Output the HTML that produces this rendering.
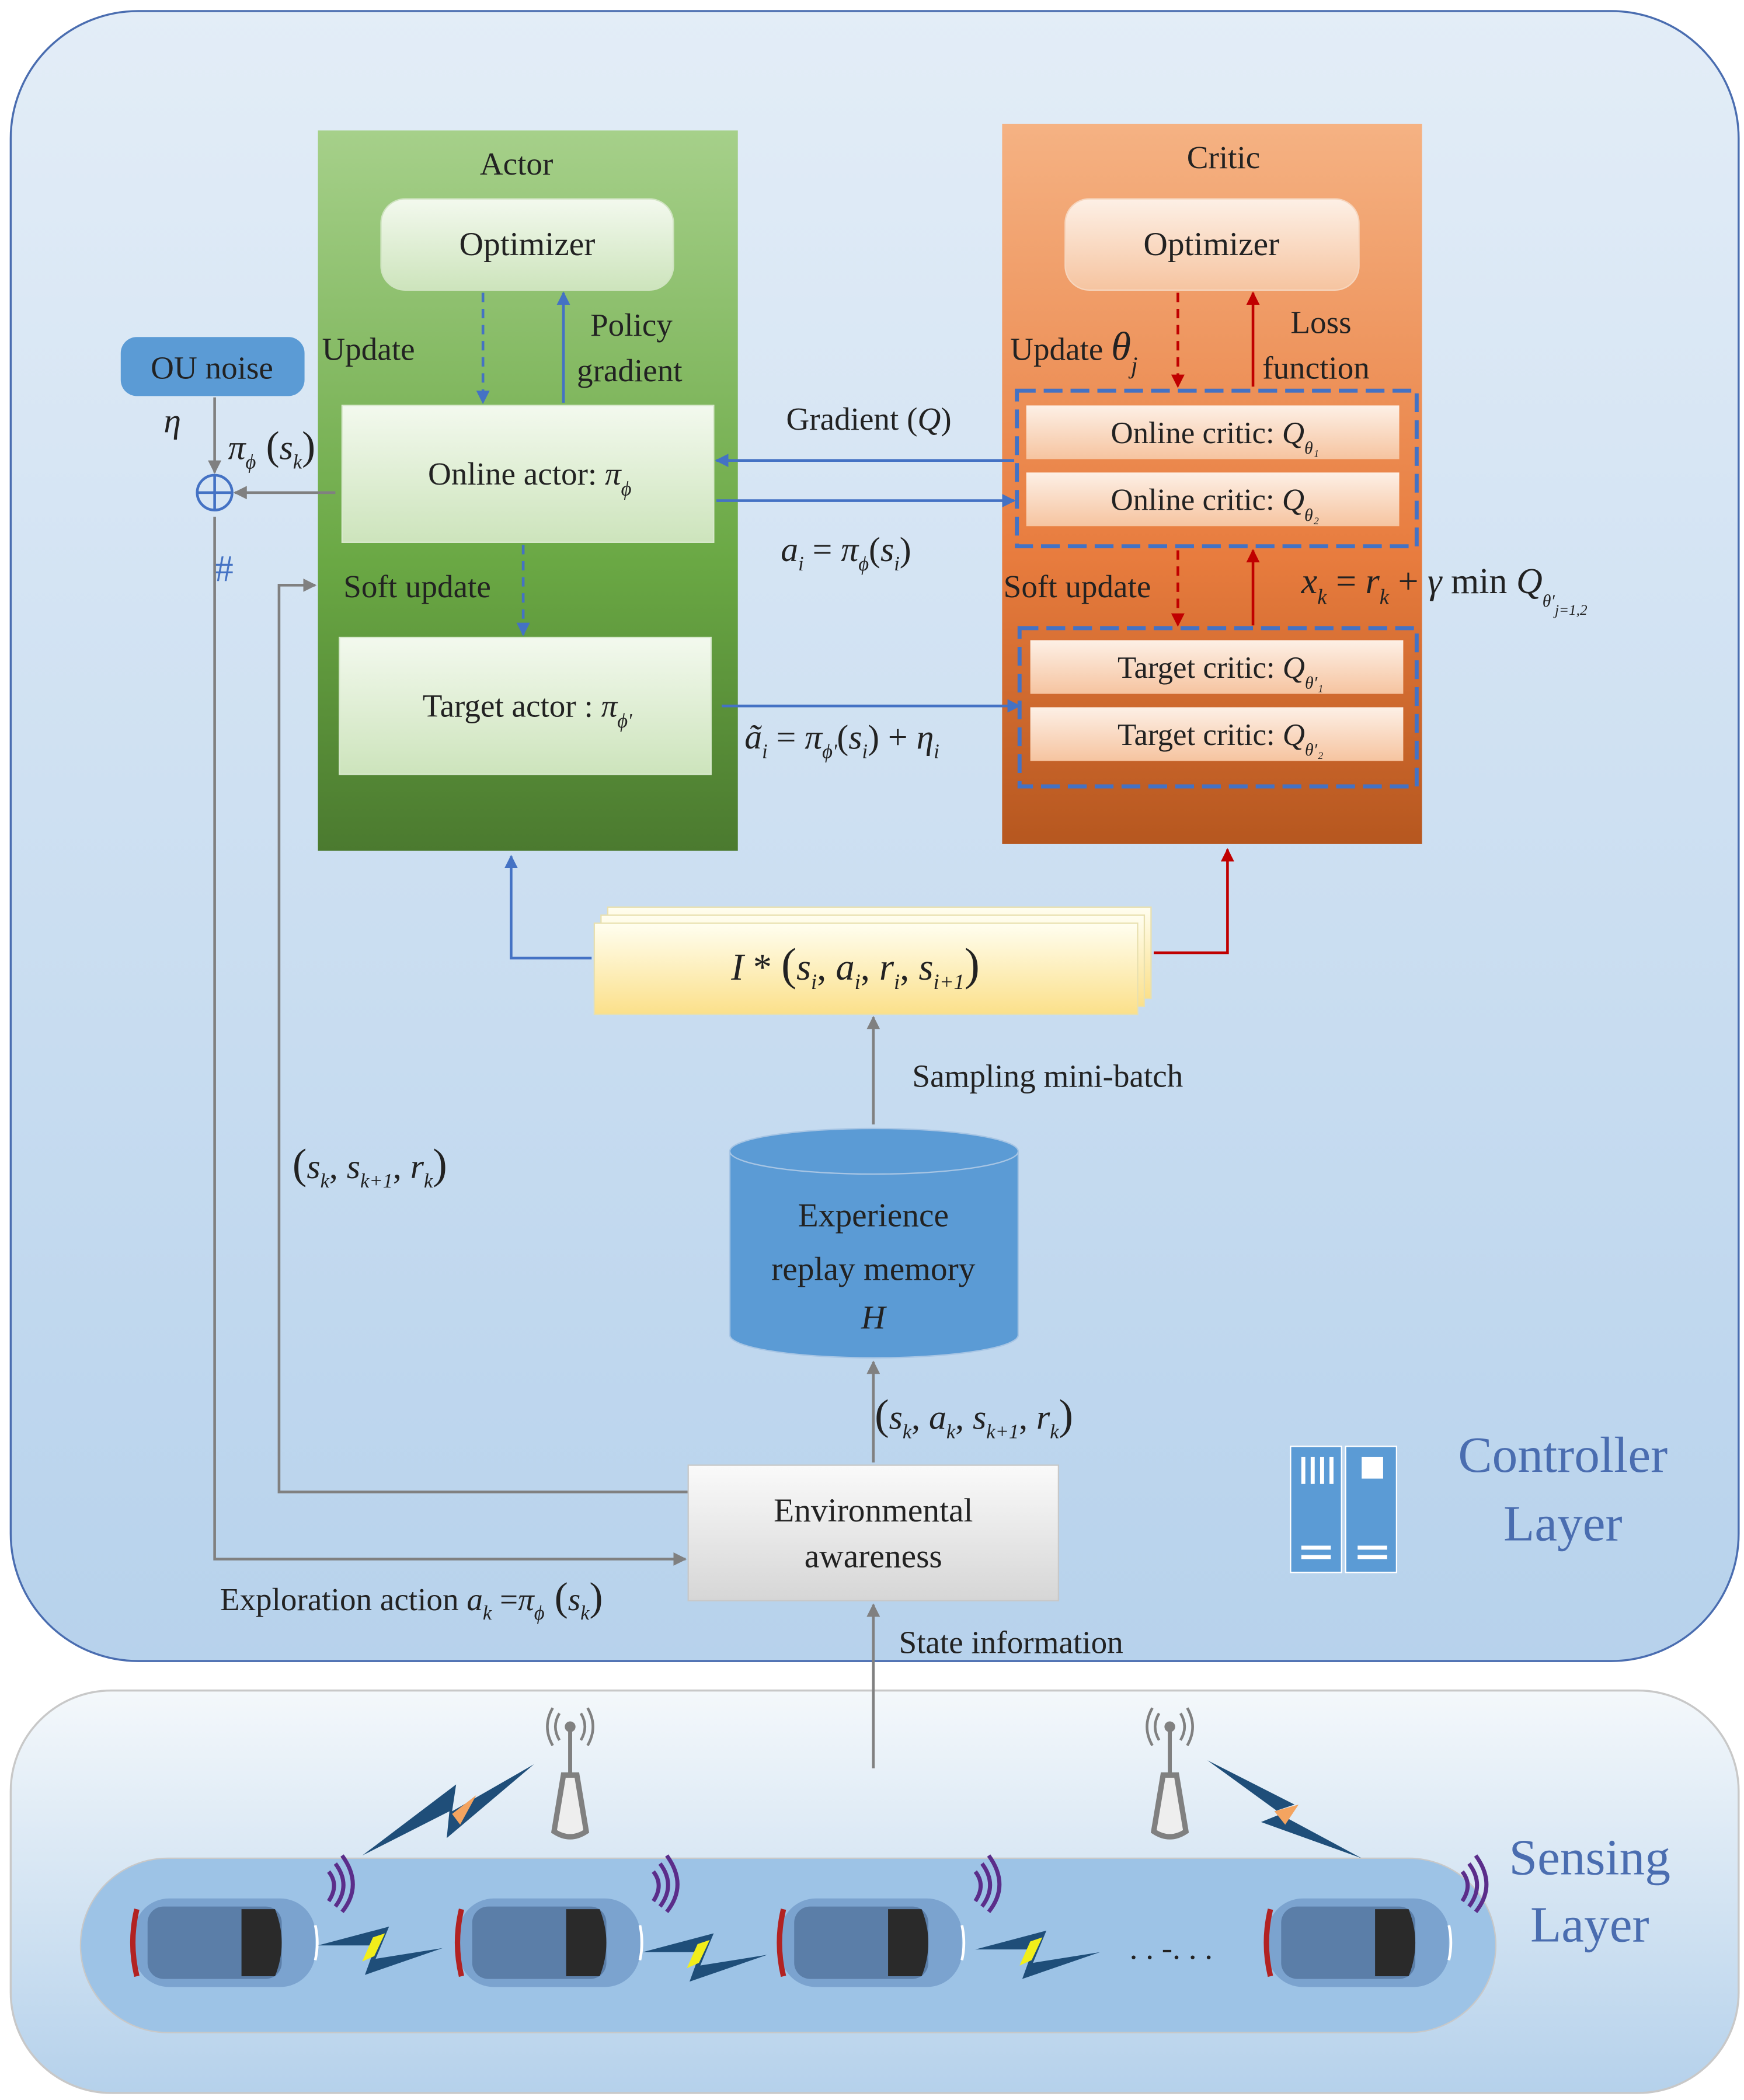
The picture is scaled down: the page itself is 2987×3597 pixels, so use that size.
<!DOCTYPE html>
<html><head><meta charset="utf-8"><style>
html,body{margin:0;padding:0;background:#fff}
svg{display:block}
text{font-family:"Liberation Serif",serif;fill:#222}
.it{font-style:italic}
</style></head><body>
<svg width="2987" height="3597" viewBox="0 0 1300 1565" xmlns="http://www.w3.org/2000/svg">
<defs>
<linearGradient id="ctl" x1="0" y1="0" x2="0" y2="1"><stop offset="0" stop-color="#e3edf7"/><stop offset="1" stop-color="#b7d2ec"/></linearGradient>
<linearGradient id="sen" x1="0" y1="0" x2="0" y2="1"><stop offset="0" stop-color="#f4f8fb"/><stop offset="1" stop-color="#b5d1eb"/></linearGradient>
<linearGradient id="act" x1="0" y1="0" x2="0" y2="1"><stop offset="0" stop-color="#a6d08a"/><stop offset="0.6" stop-color="#6aa844"/><stop offset="1" stop-color="#4b7a2f"/></linearGradient>
<linearGradient id="cri" x1="0" y1="0" x2="0" y2="1"><stop offset="0" stop-color="#f5b283"/><stop offset="0.6" stop-color="#e87c3e"/><stop offset="1" stop-color="#b6571f"/></linearGradient>
<linearGradient id="gbox" x1="0" y1="0" x2="0" y2="1"><stop offset="0" stop-color="#f3f9ee"/><stop offset="1" stop-color="#cde4bc"/></linearGradient>
<linearGradient id="obox" x1="0" y1="0" x2="0" y2="1"><stop offset="0" stop-color="#fdf0e6"/><stop offset="1" stop-color="#f6c4a0"/></linearGradient>
<linearGradient id="ybox" x1="0" y1="0" x2="0" y2="1"><stop offset="0" stop-color="#fffef0"/><stop offset="1" stop-color="#fbe08a"/></linearGradient>
<linearGradient id="env" x1="0" y1="0" x2="0" y2="1"><stop offset="0" stop-color="#fafafa"/><stop offset="1" stop-color="#d6d6d6"/></linearGradient>
<marker id="ag" markerWidth="10" markerHeight="10" refX="9" refY="5" orient="auto" markerUnits="userSpaceOnUse"><path d="M0,0 L10,5 L0,10 z" fill="#808080"/></marker>
<marker id="ab" markerWidth="10" markerHeight="10" refX="9" refY="5" orient="auto" markerUnits="userSpaceOnUse"><path d="M0,0 L10,5 L0,10 z" fill="#4472c4"/></marker>
<marker id="ar" markerWidth="10" markerHeight="10" refX="9" refY="5" orient="auto" markerUnits="userSpaceOnUse"><path d="M0,0 L10,5 L0,10 z" fill="#c00000"/></marker>
<g id="car">
<rect x="0" y="0" width="135" height="66" rx="26" fill="#7ba3cf"/>
<rect x="10" y="6" width="100" height="54" rx="12" fill="#5b7ea8"/>
<path d="M80,8 L105,8 Q115,33 105,58 L80,58 Z" fill="#2a2a2a"/>
<path d="M2,8 Q-4,33 2,58" stroke="#b22222" stroke-width="4" fill="none"/>
<path d="M135,20 Q138,33 135,46" stroke="#fff" stroke-width="2" fill="none"/>
<path d="M145,-20 q8,10 0,22 M150,-26 q12,16 0,32 M155,-32 q16,22 0,42" stroke="#5b2d8a" stroke-width="3" fill="none"/>
</g>
<g id="tower">
<line x1="0" y1="-60" x2="0" y2="-20" stroke="#808080" stroke-width="3"/>
<circle cx="0" cy="-58" r="4" fill="#808080"/>
<path d="M-8,-68 q-6,10 0,20 M8,-68 q6,10 0,20 M-13,-72 q-8,14 0,28 M13,-72 q8,14 0,28" stroke="#808080" stroke-width="2" fill="none"/>
<path d="M-5,-22 L5,-22 L12,20 Q0,28 -12,20 Z" fill="#eee" stroke="#808080" stroke-width="4"/>
</g>
</defs>

<!-- layers -->
<rect x="8" y="8" width="1288" height="1230" rx="95" fill="url(#ctl)" stroke="#4a6db0" stroke-width="1.5"/>
<rect x="8" y="1260" width="1288" height="300" rx="75" fill="url(#sen)" stroke="#c8c8c8" stroke-width="1.5"/>
<rect x="60" y="1385" width="1055" height="130" rx="65" fill="#9dc3e6" stroke="#c8c8c8" stroke-width="1"/>

<!-- actor/critic -->
<rect x="237" y="97" width="313" height="537" fill="url(#act)"/>
<rect x="747" y="92" width="313" height="537" fill="url(#cri)"/>
<text x="385" y="130" font-size="24" text-anchor="middle">Actor</text>
<text x="912" y="125" font-size="24" text-anchor="middle">Critic</text>
<rect x="284" y="148" width="218" height="68" rx="18" fill="url(#gbox)" stroke="#cfe3c0"/>
<text x="393" y="190" font-size="25" text-anchor="middle">Optimizer</text>
<rect x="794" y="148" width="219" height="68" rx="18" fill="url(#obox)" stroke="#f6d5bd"/>
<text x="903" y="190" font-size="25" text-anchor="middle">Optimizer</text>

<rect x="255" y="302" width="277" height="102" fill="url(#gbox)" stroke="#d8e9cc"/>
<text x="319" y="361" font-size="24">Online actor: <tspan class="it">π</tspan><tspan class="it" font-size="15" dy="8">ϕ</tspan></text>
<rect x="253" y="475" width="277" height="102" fill="url(#gbox)" stroke="#d8e9cc"/>
<text x="315" y="534" font-size="24">Target actor : <tspan class="it">π</tspan><tspan class="it" font-size="15" dy="8">ϕ'</tspan></text>

<rect x="765" y="302" width="278" height="40" fill="url(#obox)"/>
<text x="828" y="330" font-size="23">Online critic: <tspan class="it">Q</tspan><tspan class="it" font-size="13" dy="8">θ₁</tspan></text>
<rect x="765" y="352" width="278" height="40" fill="url(#obox)"/>
<text x="828" y="380" font-size="23">Online critic: <tspan class="it">Q</tspan><tspan class="it" font-size="13" dy="8">θ₂</tspan></text>
<rect x="758" y="291" width="298" height="116" fill="none" stroke="#4472c4" stroke-width="3" stroke-dasharray="14,6"/>
<rect x="768" y="477" width="278" height="40" fill="url(#obox)"/>
<text x="833" y="505" font-size="23">Target critic: <tspan class="it">Q</tspan><tspan class="it" font-size="13" dy="8">θ′₁</tspan></text>
<rect x="768" y="527" width="278" height="40" fill="url(#obox)"/>
<text x="833" y="555" font-size="23">Target critic: <tspan class="it">Q</tspan><tspan class="it" font-size="13" dy="8">θ′₂</tspan></text>
<rect x="760" y="468" width="296" height="118" fill="none" stroke="#4472c4" stroke-width="3" stroke-dasharray="14,6"/>

<!-- actor internal arrows -->
<line x1="360" y1="218" x2="360" y2="300" stroke="#4472c4" stroke-width="2" stroke-dasharray="7,5" marker-end="url(#ab)"/>
<line x1="420" y1="300" x2="420" y2="218" stroke="#4472c4" stroke-width="2" marker-end="url(#ab)"/>
<text x="240" y="268" font-size="24">Update</text>
<text x="440" y="250" font-size="24">Policy</text>
<text x="430" y="284" font-size="24">gradient</text>
<line x1="390" y1="406" x2="390" y2="473" stroke="#4472c4" stroke-width="2" stroke-dasharray="7,5" marker-end="url(#ab)"/>
<text x="256" y="445" font-size="24">Soft update</text>

<!-- critic internal arrows -->
<line x1="878" y1="218" x2="878" y2="288" stroke="#c00000" stroke-width="2" stroke-dasharray="7,5" marker-end="url(#ar)"/>
<line x1="934" y1="288" x2="934" y2="218" stroke="#c00000" stroke-width="2" marker-end="url(#ar)"/>
<text x="753" y="268" font-size="24">Update <tspan class="it" font-size="30">θ</tspan><tspan class="it" font-size="18" dy="10">j</tspan></text>
<text x="962" y="248" font-size="24">Loss</text>
<text x="941" y="282" font-size="24">function</text>
<line x1="878" y1="410" x2="878" y2="466" stroke="#c00000" stroke-width="2" stroke-dasharray="7,5" marker-end="url(#ar)"/>
<line x1="934" y1="466" x2="934" y2="410" stroke="#c00000" stroke-width="2" marker-end="url(#ar)"/>
<text x="748" y="445" font-size="24">Soft update</text>
<text x="970" y="442" font-size="27" class="it">x<tspan font-size="16" dy="8">k</tspan><tspan dy="-8" font-style="normal"> = </tspan>r<tspan font-size="16" dy="8">k</tspan><tspan dy="-8" font-style="normal"> + </tspan>γ<tspan font-style="normal"> min </tspan>Q<tspan font-size="13" dy="10">θ′</tspan><tspan font-size="11" dy="6">j=1,2</tspan></text>

<!-- actor<->critic -->
<line x1="756" y1="343" x2="534" y2="343" stroke="#4472c4" stroke-width="2" marker-end="url(#ab)"/>
<text x="586" y="320" font-size="24">Gradient (<tspan class="it">Q</tspan>)</text>
<line x1="534" y1="373" x2="756" y2="373" stroke="#4472c4" stroke-width="2" marker-end="url(#ab)"/>
<text x="582" y="418" font-size="26" class="it">a<tspan font-size="15" dy="7">i</tspan><tspan dy="-7" font-style="normal"> = </tspan>π<tspan font-size="15" dy="7">ϕ</tspan><tspan dy="-7" font-style="normal">(</tspan>s<tspan font-size="15" dy="7">i</tspan><tspan dy="-7" font-style="normal">)</tspan></text>
<line x1="538" y1="526" x2="760" y2="526" stroke="#4472c4" stroke-width="2" marker-end="url(#ab)"/>
<text x="555" y="558" font-size="26" class="it">ã<tspan font-size="15" dy="7">i</tspan><tspan dy="-7" font-style="normal"> = </tspan>π<tspan font-size="15" dy="7">ϕ'</tspan><tspan dy="-7" font-style="normal">(</tspan>s<tspan font-size="15" dy="7">i</tspan><tspan dy="-7" font-style="normal">) + </tspan>η<tspan font-size="15" dy="7">i</tspan></text>

<!-- OU noise -->
<rect x="90" y="251" width="137" height="44" rx="12" fill="#5b9bd5"/>
<text x="158" y="282" font-size="24" text-anchor="middle">OU noise</text>
<text x="122" y="322" font-size="26" class="it">η</text>
<line x1="160" y1="296" x2="160" y2="352" stroke="#808080" stroke-width="2" marker-end="url(#ag)"/>
<circle cx="160" cy="367" r="13" fill="none" stroke="#4472c4" stroke-width="2"/>
<line x1="147" y1="367" x2="173" y2="367" stroke="#4472c4" stroke-width="2"/>
<line x1="160" y1="354" x2="160" y2="380" stroke="#4472c4" stroke-width="2"/>
<line x1="250" y1="367" x2="175" y2="367" stroke="#808080" stroke-width="2" marker-end="url(#ag)"/>
<text x="170" y="342" font-size="26" class="it">π<tspan font-size="15" dy="7">ϕ</tspan><tspan dy="-7" font-style="normal" font-size="30"> (</tspan>s<tspan font-size="15" dy="7">k</tspan><tspan dy="-7" font-style="normal" font-size="30">)</tspan></text>
<text x="160" y="433" font-size="28" fill="#4472c4" style="fill:#4472c4">#</text>
<polyline points="160,385 160,1162 511,1162" fill="none" stroke="#808080" stroke-width="2" marker-end="url(#ag)"/>
<polyline points="513,1112 208,1112 208,436 235,436" fill="none" stroke="#808080" stroke-width="2" marker-end="url(#ag)"/>
<text x="218" y="878" font-size="26" class="it"><tspan font-style="normal" font-size="32">(</tspan>s<tspan font-size="15" dy="7">k</tspan><tspan dy="-7" font-style="normal">, </tspan>s<tspan font-size="15" dy="7">k+1</tspan><tspan dy="-7" font-style="normal">, </tspan>r<tspan font-size="15" dy="7">k</tspan><tspan dy="-7" font-style="normal" font-size="32">)</tspan></text>

<!-- minibatch -->
<rect x="453" y="676" width="405" height="68" fill="url(#ybox)" stroke="#e8e0b0"/>
<rect x="448" y="682" width="405" height="68" fill="url(#ybox)" stroke="#e8e0b0"/>
<rect x="443" y="688" width="405" height="68" fill="url(#ybox)" stroke="#e8e0b0"/>
<text x="545" y="730" font-size="28" class="it">I<tspan font-style="normal"> * </tspan><tspan font-style="normal" font-size="34">(</tspan>s<tspan font-size="16" dy="7">i</tspan><tspan dy="-7" font-style="normal">, </tspan>a<tspan font-size="16" dy="7">i</tspan><tspan dy="-7" font-style="normal">, </tspan>r<tspan font-size="16" dy="7">i</tspan><tspan dy="-7" font-style="normal">, </tspan>s<tspan font-size="16" dy="7">i+1</tspan><tspan dy="-7" font-style="normal" font-size="34">)</tspan></text>
<polyline points="441,714 381,714 381,638" fill="none" stroke="#4472c4" stroke-width="2" marker-end="url(#ab)"/>
<polyline points="860,710 915,710 915,633" fill="none" stroke="#c00000" stroke-width="2" marker-end="url(#ar)"/>
<line x1="651" y1="838" x2="651" y2="758" stroke="#808080" stroke-width="2" marker-end="url(#ag)"/>
<text x="680" y="810" font-size="24">Sampling mini-batch</text>

<!-- cylinder -->
<path d="M544,858 L544,995 A107.5,17 0 0 0 759,995 L759,858" fill="#5b9bd5" stroke="#a7c5e4"/>
<ellipse cx="651.5" cy="858" rx="107.5" ry="17" fill="#5b9bd5" stroke="#a7c5e4"/>
<text x="651" y="914" font-size="25" text-anchor="middle">Experience</text>
<text x="651" y="954" font-size="25" text-anchor="middle">replay memory</text>
<text x="651" y="990" font-size="25" text-anchor="middle" class="it">H</text>
<line x1="651" y1="1090" x2="651" y2="1015" stroke="#808080" stroke-width="2" marker-end="url(#ag)"/>
<text x="652" y="1065" font-size="26" class="it"><tspan font-style="normal" font-size="32">(</tspan>s<tspan font-size="15" dy="7">k</tspan><tspan dy="-7" font-style="normal">, </tspan>a<tspan font-size="15" dy="7">k</tspan><tspan dy="-7" font-style="normal">, </tspan>s<tspan font-size="15" dy="7">k+1</tspan><tspan dy="-7" font-style="normal">, </tspan>r<tspan font-size="15" dy="7">k</tspan><tspan dy="-7" font-style="normal" font-size="32">)</tspan></text>

<!-- env -->
<rect x="513" y="1092" width="276" height="101" fill="url(#env)" stroke="#c8c8c8"/>
<text x="651" y="1134" font-size="25" text-anchor="middle">Environmental</text>
<text x="651" y="1168" font-size="25" text-anchor="middle">awareness</text>
<text x="164" y="1200" font-size="24">Exploration action <tspan class="it">a</tspan><tspan class="it" font-size="15" dy="7">k</tspan><tspan dy="-7"> =</tspan><tspan class="it">π</tspan><tspan class="it" font-size="15" dy="7">ϕ</tspan><tspan dy="-7" font-size="30"> (</tspan><tspan class="it">s</tspan><tspan class="it" font-size="15" dy="7">k</tspan><tspan dy="-7" font-size="30">)</tspan></text>
<line x1="651" y1="1318" x2="651" y2="1196" stroke="#808080" stroke-width="2" marker-end="url(#ag)"/>
<text x="670" y="1232" font-size="24">State information</text>

<!-- server icon -->
<rect x="962" y="1078" width="38" height="94" fill="#5b9bd5" stroke="#fff"/>
<rect x="1003" y="1078" width="38" height="94" fill="#5b9bd5" stroke="#fff"/>
<g fill="#fff"><rect x="970" y="1086" width="3" height="20"/><rect x="977" y="1086" width="3" height="20"/><rect x="984" y="1086" width="3" height="20"/><rect x="991" y="1086" width="3" height="20"/>
<rect x="1015" y="1086" width="16" height="16"/>
<rect x="970" y="1152" width="22" height="3"/><rect x="970" y="1159" width="22" height="3"/><rect x="1012" y="1152" width="22" height="3"/><rect x="1012" y="1159" width="22" height="3"/></g>
<text x="1165" y="1097" font-size="38" text-anchor="middle" style="fill:#4a6db0">Controller</text>
<text x="1165" y="1148" font-size="38" text-anchor="middle" style="fill:#4a6db0">Layer</text>
<text x="1185" y="1397" font-size="38" text-anchor="middle" style="fill:#4a6db0">Sensing</text>
<text x="1185" y="1447" font-size="38" text-anchor="middle" style="fill:#4a6db0">Layer</text>

<!-- towers -->
<use href="#tower" x="425" y="1345"/>
<use href="#tower" x="872" y="1345"/>
<!-- long bolts -->
<path d="M270,1383 L340,1330 L337,1350 L398,1315 L333,1370 L335,1350 Z" fill="#1f4e79"/>
<path d="M337,1352 L355,1338 L343,1360 Z" fill="#f4a460"/>
<path d="M900,1312 L965,1345 L950,1350 L1015,1385 L940,1358 L955,1352 Z" fill="#1f4e79"/>
<path d="M950,1350 L968,1345 L958,1360 Z" fill="#f4a460"/>

<!-- cars -->
<use href="#car" x="100" y="1415"/>
<use href="#car" x="342" y="1415"/>
<use href="#car" x="582" y="1415"/>
<use href="#car" x="945" y="1415"/>
<!-- short bolts -->
<g fill="#1f4e79">
<path d="M237,1450 L290,1436 L280,1460 L330,1452 L272,1472 L280,1450 Z"/>
<path d="M479,1455 L532,1441 L522,1465 L572,1457 L514,1477 L522,1455 Z"/>
<path d="M727,1453 L780,1439 L770,1463 L820,1455 L762,1475 L770,1453 Z"/>
</g>
<g fill="#f2ee1a">
<path d="M278,1444 L287,1441 L279,1458 L270,1462 Z"/>
<path d="M520,1449 L529,1446 L521,1463 L512,1467 Z"/>
<path d="M768,1447 L777,1444 L769,1461 L760,1465 Z"/>
</g>
<text x="842" y="1460" font-size="24">. . -. . .</text>
</svg>
</body></html>
